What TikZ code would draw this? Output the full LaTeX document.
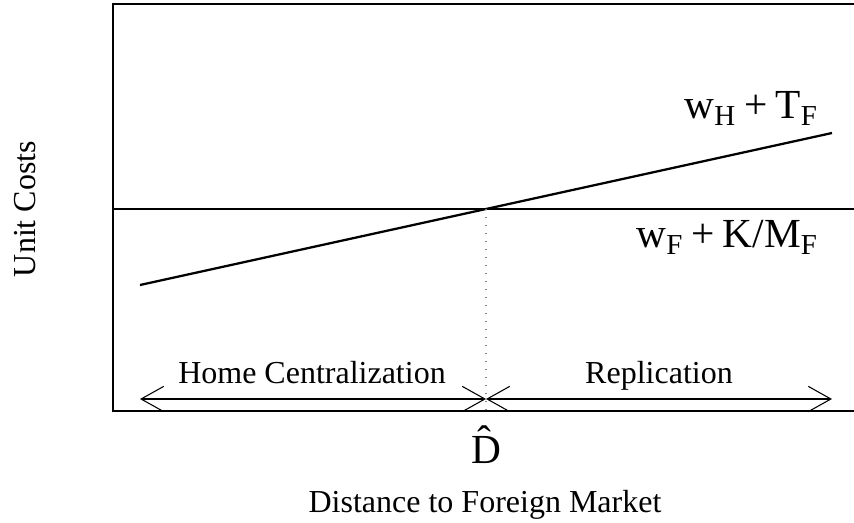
\documentclass[tikz,border=0pt]{standalone}
\usepackage{fontspec}
\setmainfont{Liberation Serif}
\usetikzlibrary{arrows.meta}
\newcommand{\lowidx}[1]{\textsubscript{#1}}
\newcommand{\opgap}{\hspace{0.2em}}
\begin{document}
\begin{tikzpicture}[x=0.75pt,y=-0.75pt,
  frame/.style={line width=1pt, line cap=rect},
  cost/.style={line width=1.7pt},
  guide/.style={line width=0.8pt, gray, dash pattern=on 0.8pt off 5.2pt},
  span/.style={line width=0.8pt, {Straight Barb[length=17pt,width=19pt]}-{Straight Barb[length=17pt,width=19pt]}},
  lbl/.style={inner sep=0pt, font=\fontsize{24}{28}\selectfont},
  eq/.style={inner sep=0pt, font=\fontsize{31}{36}\selectfont}]
\useasboundingbox (0,0) rectangle (854,522);

% plot frame (open on the right)
\coordinate (fTR) at (854,4);
\coordinate (fTL) at (113,4);
\coordinate (fBL) at (113,411);
\coordinate (fBR) at (854,411);
\draw[frame] (fTR) -- (fTL) -- (fBL) -- (fBR);

% cost schedules
\coordinate (flatL) at (113,209);
\coordinate (flatR) at (854,209);
\coordinate (riseL) at (140,285);
\coordinate (riseR) at (832,133);
\draw[cost] (flatL) -- (flatR);
\draw[cost] (riseL) -- (riseR);

% threshold distance
\coordinate (cross) at (486,209);
\coordinate (crossBase) at (486,411);
\draw[guide] (cross) -- (crossBase);

% regime ranges
\coordinate (spanL) at (140,399);
\coordinate (spanM) at (486,399);
\coordinate (spanR) at (832,399);
\draw[span] (spanL) -- (spanM);
\draw[span] (spanM) -- (spanR);

% labels
\node[lbl, anchor=base] (home) at (312,383) {Home Centralization};
\node[lbl, anchor=base] (repl) at (659,383) {Replication};
\node[eq, anchor=base] (dhat) at (486,463) {\^{D}};
\node[lbl, anchor=base] (xlab) at (485,512) {Distance to Foreign Market};
\node[lbl, rotate=90] (ylab) at (25,209) {Unit Costs};
\node[eq, anchor=base east] (homecost) at (818,118)
  {w\lowidx{H}\opgap+\opgap T\lowidx{F}};
\node[eq, anchor=base east] (foreigncost) at (818,247)
  {w\lowidx{F}\opgap+\opgap K/M\lowidx{F}};
\end{tikzpicture}
\end{document}
